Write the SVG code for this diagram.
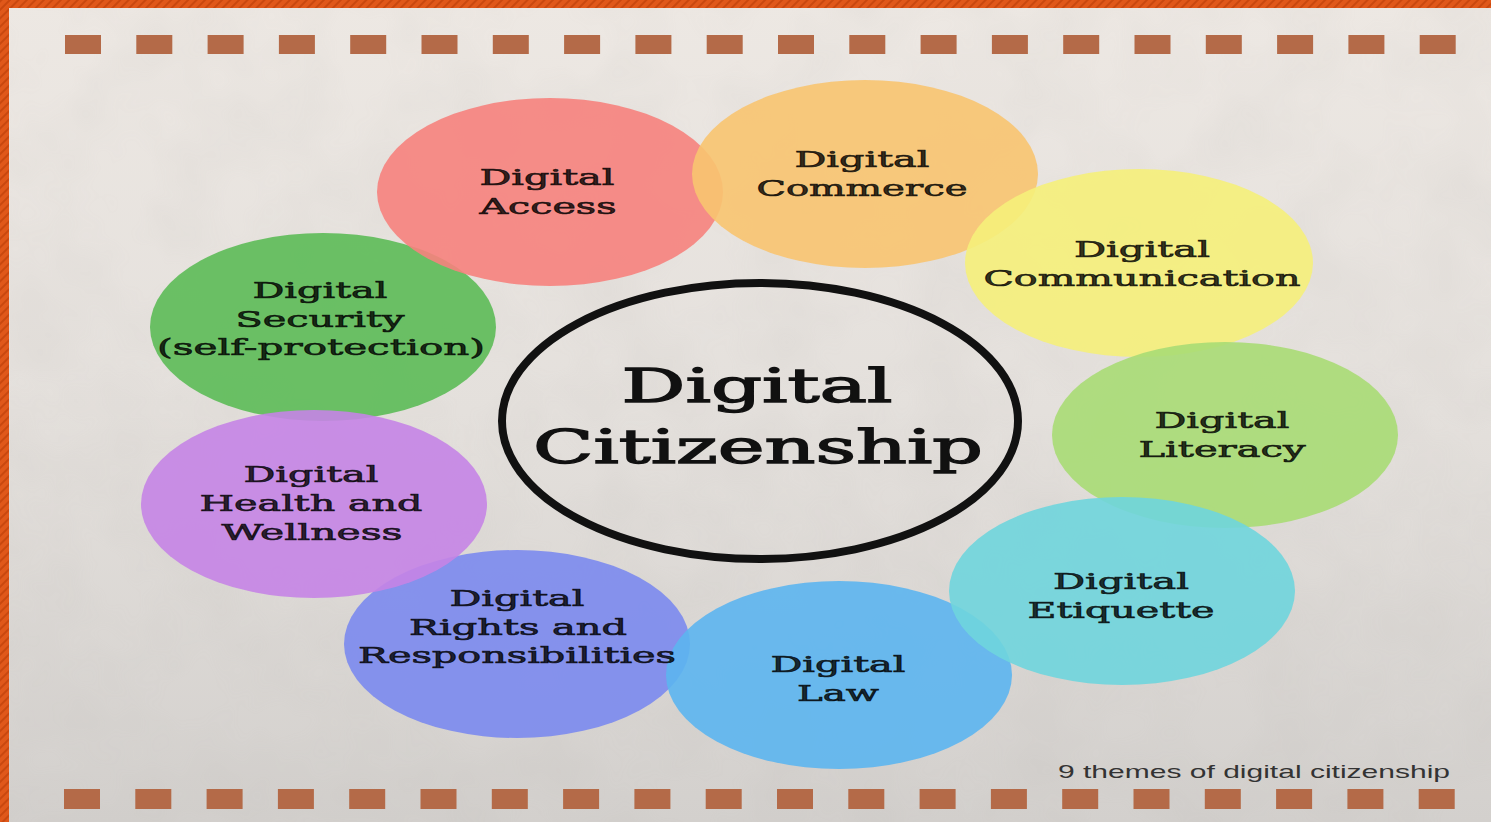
<svg xmlns="http://www.w3.org/2000/svg" width="1491" height="822" viewBox="0 0 1491 822">
  <defs>
    <linearGradient id="bg" x1="0" y1="0" x2="0" y2="1">
      <stop offset="0" stop-color="#ede8e3"/>
      <stop offset="0.5" stop-color="#e4e0dc"/>
      <stop offset="1" stop-color="#d3d0cd"/>
    </linearGradient>
    <pattern id="stripes" width="6" height="6" patternUnits="userSpaceOnUse" patternTransform="rotate(45)">
      <rect width="6" height="6" fill="#e0581a"/>
      <rect width="2" height="6" fill="#c9480f"/>
    </pattern>
    <filter id="grain" x="0" y="0" width="100%" height="100%">
      <feTurbulence type="fractalNoise" baseFrequency="0.012" numOctaves="3" seed="4"/>
      <feColorMatrix type="matrix" values="0 0 0 0 0.45  0 0 0 0 0.43  0 0 0 0 0.41  0 0 0 0.55 -0.18"/>
    </filter>
    <style>
      .sq { fill: #b46a48; }
      .bub { fill-opacity: 0.9; }
      .lbl { font-family: "DejaVu Serif", "Liberation Serif", serif; font-weight: normal; font-size: 22px; fill: #000; fill-opacity: 0.8; stroke: #000; stroke-opacity: 0.8; stroke-width: 0.7px; text-anchor: middle; }
      .main { font-family: "DejaVu Serif", "Liberation Serif", serif; font-weight: normal; font-size: 46px; fill: #111; stroke: #111; stroke-width: 1.3px; text-anchor: middle; }
      .cap { font-family: "Liberation Sans", Arial, sans-serif; font-size: 19px; fill: #333; }
    </style>
  </defs>

  <!-- background -->
  <rect x="0" y="0" width="1491" height="822" fill="url(#bg)"/>
  <rect x="0" y="0" width="1491" height="822" filter="url(#grain)" opacity="0.35"/>
  <rect x="0" y="0" width="1491" height="8" fill="url(#stripes)"/>
  <rect x="0" y="0" width="9" height="822" fill="url(#stripes)"/>

  <!-- dashed borders -->
  <g id="top-squares">
    <rect class="sq" x="65" y="35" width="36" height="19"/>
    <rect class="sq" x="136.3" y="35" width="36" height="19"/>
    <rect class="sq" x="207.6" y="35" width="36" height="19"/>
    <rect class="sq" x="278.9" y="35" width="36" height="19"/>
    <rect class="sq" x="350.2" y="35" width="36" height="19"/>
    <rect class="sq" x="421.5" y="35" width="36" height="19"/>
    <rect class="sq" x="492.8" y="35" width="36" height="19"/>
    <rect class="sq" x="564.1" y="35" width="36" height="19"/>
    <rect class="sq" x="635.4" y="35" width="36" height="19"/>
    <rect class="sq" x="706.7" y="35" width="36" height="19"/>
    <rect class="sq" x="778" y="35" width="36" height="19"/>
    <rect class="sq" x="849.3" y="35" width="36" height="19"/>
    <rect class="sq" x="920.6" y="35" width="36" height="19"/>
    <rect class="sq" x="991.9" y="35" width="36" height="19"/>
    <rect class="sq" x="1063.2" y="35" width="36" height="19"/>
    <rect class="sq" x="1134.5" y="35" width="36" height="19"/>
    <rect class="sq" x="1205.8" y="35" width="36" height="19"/>
    <rect class="sq" x="1277.1" y="35" width="36" height="19"/>
    <rect class="sq" x="1348.4" y="35" width="36" height="19"/>
    <rect class="sq" x="1419.7" y="35" width="36" height="19"/>
  </g>
  <g id="bottom-squares">
    <rect class="sq" x="64" y="789" width="36" height="20"/>
    <rect class="sq" x="135.3" y="789" width="36" height="20"/>
    <rect class="sq" x="206.6" y="789" width="36" height="20"/>
    <rect class="sq" x="277.9" y="789" width="36" height="20"/>
    <rect class="sq" x="349.2" y="789" width="36" height="20"/>
    <rect class="sq" x="420.5" y="789" width="36" height="20"/>
    <rect class="sq" x="491.8" y="789" width="36" height="20"/>
    <rect class="sq" x="563.1" y="789" width="36" height="20"/>
    <rect class="sq" x="634.4" y="789" width="36" height="20"/>
    <rect class="sq" x="705.7" y="789" width="36" height="20"/>
    <rect class="sq" x="777" y="789" width="36" height="20"/>
    <rect class="sq" x="848.3" y="789" width="36" height="20"/>
    <rect class="sq" x="919.6" y="789" width="36" height="20"/>
    <rect class="sq" x="990.9" y="789" width="36" height="20"/>
    <rect class="sq" x="1062.2" y="789" width="36" height="20"/>
    <rect class="sq" x="1133.5" y="789" width="36" height="20"/>
    <rect class="sq" x="1204.8" y="789" width="36" height="20"/>
    <rect class="sq" x="1276.1" y="789" width="36" height="20"/>
    <rect class="sq" x="1347.4" y="789" width="36" height="20"/>
    <rect class="sq" x="1418.7" y="789" width="36" height="20"/>
  </g>

  <!-- connectors: none in this diagram -->
  <g id="connectors"></g>

  <g id="node-security">
    <ellipse class="bub" cx="323" cy="327" rx="173" ry="94" fill="#5cbb57"/>
  </g>
  <g id="node-rights">
    <ellipse class="bub" cx="517" cy="644" rx="173" ry="94" fill="#7b89ee"/>
  </g>
  <g id="node-health">
    <ellipse class="bub" cx="314" cy="504" rx="173" ry="94" fill="#c584e6"/>
  </g>
  <g id="node-law">
    <ellipse class="bub" cx="839" cy="675" rx="173" ry="94" fill="#5cb5ef"/>
  </g>
  <g id="node-access">
    <ellipse class="bub" cx="550" cy="192" rx="173" ry="94" fill="#f6827d"/>
  </g>
  <g id="node-commerce">
    <ellipse class="bub" cx="865" cy="174" rx="173" ry="94" fill="#f8c470"/>
  </g>
  <g id="node-communication">
    <ellipse class="bub" cx="1139" cy="263" rx="174" ry="94" fill="#f5f07a"/>
  </g>
  <g id="node-literacy">
    <ellipse class="bub" cx="1225" cy="435" rx="173" ry="93" fill="#a8db74"/>
  </g>
  <g id="node-etiquette">
    <ellipse class="bub" cx="1122" cy="591" rx="173" ry="94" fill="#6fd5dd"/>
  </g>

  <!-- labels -->
  <g id="labels">
    <text class="lbl" x="547" y="185" textLength="135" lengthAdjust="spacingAndGlyphs">Digital</text>
    <text class="lbl" x="548" y="214" textLength="137" lengthAdjust="spacingAndGlyphs">Access</text>

    <text class="lbl" x="862" y="167" textLength="135" lengthAdjust="spacingAndGlyphs">Digital</text>
    <text class="lbl" x="862" y="196" textLength="211" lengthAdjust="spacingAndGlyphs">Commerce</text>

    <text class="lbl" x="1142" y="257" textLength="136" lengthAdjust="spacingAndGlyphs">Digital</text>
    <text class="lbl" x="1142" y="286" textLength="317" lengthAdjust="spacingAndGlyphs">Communication</text>

    <text class="lbl" x="320" y="298" textLength="135" lengthAdjust="spacingAndGlyphs">Digital</text>
    <text class="lbl" x="320" y="327" textLength="169" lengthAdjust="spacingAndGlyphs">Security</text>
    <text class="lbl" x="321" y="355" textLength="328" lengthAdjust="spacingAndGlyphs">(self-protection)</text>

    <text class="lbl" x="1222" y="428" textLength="135" lengthAdjust="spacingAndGlyphs">Digital</text>
    <text class="lbl" x="1222" y="457" textLength="167" lengthAdjust="spacingAndGlyphs">Literacy</text>

    <text class="lbl" x="311" y="482" textLength="135" lengthAdjust="spacingAndGlyphs">Digital</text>
    <text class="lbl" x="311" y="511" textLength="223" lengthAdjust="spacingAndGlyphs">Health and</text>
    <text class="lbl" x="312" y="540" textLength="181" lengthAdjust="spacingAndGlyphs">Wellness</text>

    <text class="lbl" x="1121" y="589" textLength="136" lengthAdjust="spacingAndGlyphs">Digital</text>
    <text class="lbl" x="1121" y="618" textLength="187" lengthAdjust="spacingAndGlyphs">Etiquette</text>

    <text class="lbl" x="517" y="606" textLength="135" lengthAdjust="spacingAndGlyphs">Digital</text>
    <text class="lbl" x="518" y="635" textLength="218" lengthAdjust="spacingAndGlyphs">Rights and</text>
    <text class="lbl" x="517" y="663" textLength="318" lengthAdjust="spacingAndGlyphs">Responsibilities</text>

    <text class="lbl" x="838" y="672" textLength="135" lengthAdjust="spacingAndGlyphs">Digital</text>
    <text class="lbl" x="838" y="701" textLength="82" lengthAdjust="spacingAndGlyphs">Law</text>
  </g>

  <g id="node-center">
    <ellipse cx="760" cy="421" rx="258" ry="138" fill="none" stroke="#111" stroke-width="8"/>
    <text class="main" x="757" y="402" textLength="271" lengthAdjust="spacingAndGlyphs">Digital</text>
    <text class="main" x="758" y="463" textLength="450" lengthAdjust="spacingAndGlyphs">Citizenship</text>
  </g>

  <text class="cap" x="1058" y="778" textLength="392" lengthAdjust="spacingAndGlyphs">9 themes of digital citizenship</text>
</svg>
